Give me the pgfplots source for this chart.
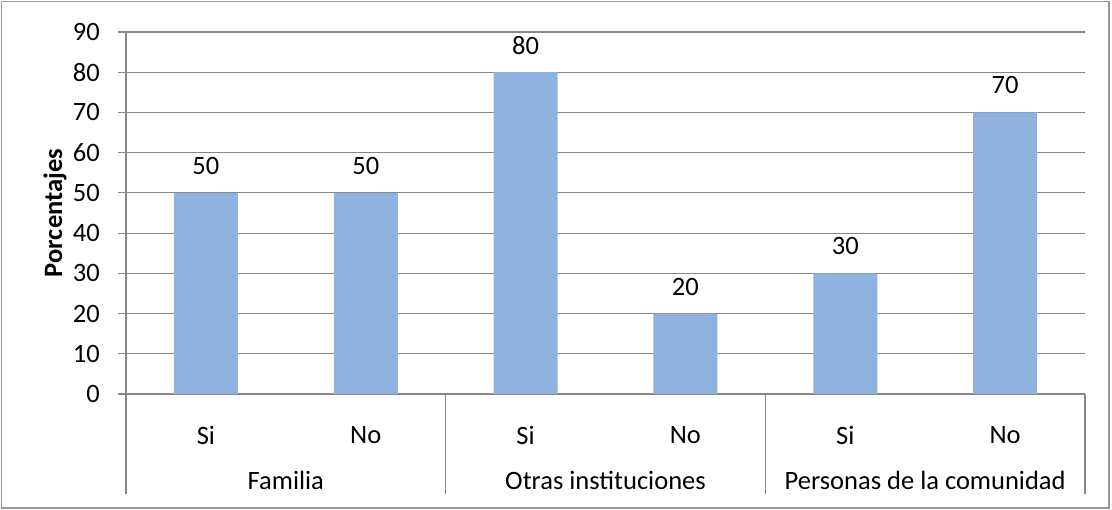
\documentclass[border=0pt]{standalone}
\usepackage{pgfplots}
\pgfplotsset{compat=1.18}
\usepackage{fontspec}
\setmainfont{Carlito}
\definecolor{barblue}{HTML}{8FB3DE}
\definecolor{gridgray}{HTML}{868686}
\newcommand\chartfont{\fontsize{26.5}{31}\selectfont}
\begin{document}
\begin{tikzpicture}
\fill[white] (0pt,0pt) rectangle (1112pt,510pt);
\draw[gray!80, line width=1.5pt] (1.5pt,2pt) rectangle (1109pt,508.5pt);
\begin{axis}[at={(126pt,116pt)}, anchor=south west, scale only axis,
  width=959pt, height=362pt,
  xmin=-0.5, xmax=5.5, ymin=0, ymax=90, ytick={0,10,...,90},
  xtick={0,...,5}, xticklabels={Si,No,Si,No,Si,No},
  ymajorgrids, grid style={gridgray, line width=1.2pt},
  axis x line*=bottom, axis y line*=left,
  axis line style={gridgray, line width=1.5pt},
  x tick style={draw=none},
  y tick style={gridgray, line width=1.2pt},
  tick align=outside, major tick length=8pt,
  font=\chartfont,
  /pgf/number format/assume math mode=true,
  xticklabel style={anchor=center, yshift=-33pt, inner sep=0pt},
  yticklabel style={anchor=east, inner sep=0pt, xshift=-18pt},
  clip=false,
  ybar, bar width=64pt,
  nodes near coords,
  every node near coord/.append style={anchor=center, yshift=27pt, inner sep=0pt},
]
\addplot[fill=barblue, draw=none] coordinates {(0,50) (1,50) (2,80) (3,20) (4,30) (5,70)};
\coordinate (s0) at (axis cs:-0.5,0);
\coordinate (s1) at (axis cs:1.5,0);
\coordinate (s2) at (axis cs:3.5,0);
\coordinate (s3) at (axis cs:5.5,0);
\coordinate (g0) at (axis cs:0.5,0);
\coordinate (g1) at (axis cs:2.5,0);
\coordinate (g2) at (axis cs:4.5,0);
\coordinate (ym) at (rel axis cs:0,0.5);
\end{axis}
\foreach \s in {s0,s1,s2,s3} {
  \draw[gridgray, line width=1.5pt] (\s) -- ++(0pt,-100pt);
}
\node[anchor=center, font=\chartfont] at ([yshift=-86pt]g0) {Familia};
\node[anchor=center, font=\chartfont] at ([yshift=-86pt]g1) {Otras instituciones};
\node[anchor=center, font=\chartfont] at ([yshift=-86pt]g2) {Personas de la comunidad};
\node[rotate=90, anchor=center, font=\chartfont\bfseries] at ([xshift=-71pt]ym) {Porcentajes};
\end{tikzpicture}
\end{document}
